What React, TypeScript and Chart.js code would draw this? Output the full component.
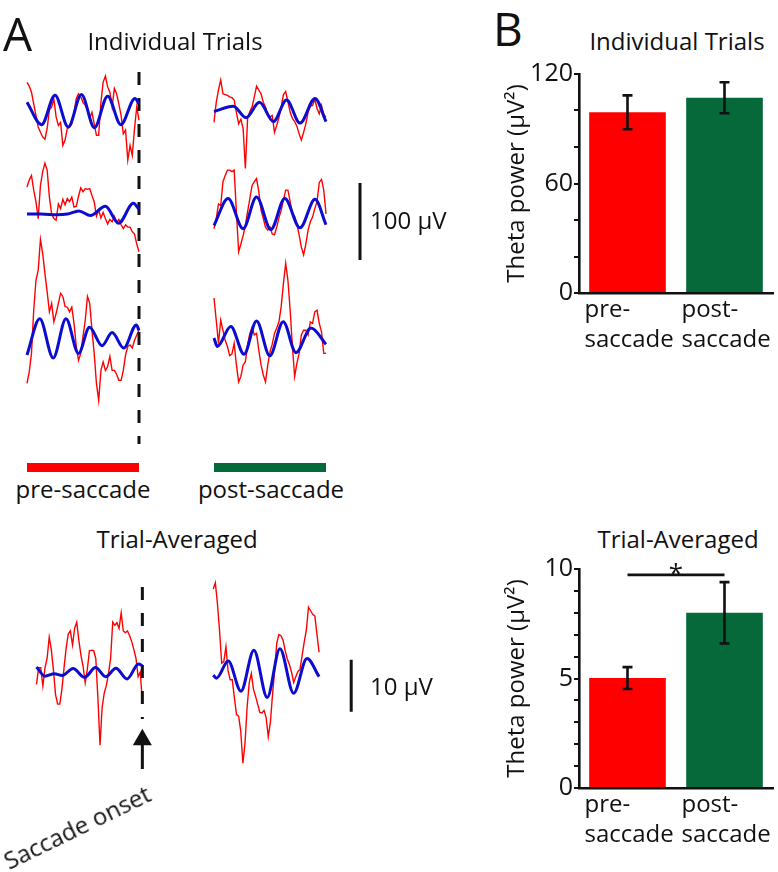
import React, { useEffect, useRef } from 'react';
import { Chart, registerables } from 'chart.js';

Chart.register(...registerables);

const FONT = '"Open Sans", "DejaVu Sans", sans-serif';
Chart.defaults.font.family = FONT;
const INK = '#111111';
const RED = '#ff0000';
const GREEN = '#05693a';
const BLUE = '#0c0cd0';

// ---------------- Panel A data (µV, samples every 10 ms, 500 ms windows) ----------------
const SAMPLE_MS = 10;
// Individual trials, pre-saccade window (-500..0 ms)
const RED_PRE_1 = [36, 31, 23, 8, -7, -22, -29, -35, -38, -24, 0, 4, 14, -9, -20, -16, -46, -39, -24, -22, -18, -3, 15, 21, 17, 10, 6, 0, -11, -3, -18, -33, -33, 10, 36, 44, 30, 23, 4, 28, 21, 8, -7, -31, -26, -65, -46, -59, -24, 4, -13];
const RED_PRE_2 = [35, 44, 50, 31, 16, -6, 37, 55, 66, 57, 22, 0, -6, -8, 13, 7, 19, 12, 20, 16, 22, 9, 10, 23, 34, 29, 33, 32, 33, 24, 16, -3, 5, -5, 2, -6, -13, -7, -10, -3, -11, -7, -14, -19, -14, -17, -17, -23, -26, -39, -49];
const RED_PRE_3 = [-59, -44, -20, 36, 75, 88, 128, 110, 84, 60, 34, 45, 21, 32, 45, 58, 54, 41, 40, 34, 40, 19, -11, -29, -20, 2, 23, 54, 45, 10, -20, -59, -81, -42, -31, -42, -37, -24, -42, -42, -47, -55, -55, -42, -22, -11, -9, -13, -3, 4, 10];
// Individual trials, post-saccade window (0..500 ms)
const RED_POST_1 = [-16, 10, 26, 39, 21, 20, 19, 17, 16, 13, -3, -18, -12, -24, -76, -11, -2, 4, 17, 31, 26, 21, 10, 4, -6, -9, -7, -29, -20, -10, 4, 20, 24, 11, -3, -11, -15, -21, -31, -39, -29, -18, -3, 5, 6, 14, 2, -5, 6, -6, -9];
const RED_POST_2 = [-19, -6, 13, 11, 42, 50, 57, 57, 55, 57, 3, -49, -39, -28, -15, 3, 20, 37, 42, 46, 29, 5, -6, -17, -21, -17, -26, -27, -17, -5, 5, 18, 31, 31, 16, 0, -3, -13, -27, -43, -53, -39, -21, -10, -4, 7, 16, 41, 45, 31, 0];
const RED_POST_3 = [52, 23, -7, 23, 10, -3, -11, -23, -21, -7, -35, -57, -50, -35, -31, -9, 6, 14, 4, 6, -16, -35, -48, -57, -35, -18, -8, 6, 13, 21, 41, 71, 97, 75, 36, -11, -50, -33, -20, 4, 10, 10, 4, 21, 19, 34, 36, 19, 8, -20, -20];

// Theta fits (key points: times in ms, values in µV)
const BLUE_PRE_1_T = [-500, -435, -375, -316, -257, -199, -140, -81, -18, 0];
const BLUE_PRE_1_V = [10, -19, 19, -22, 20, -23, 18, -19, 15, 8];
const BLUE_PRE_2_T = [-500, -438, -364, -320, -268, -217, -150, -91, -25, 0];
const BLUE_PRE_2_V = [0, 0, -1, 0, 4, -2, 10, -12, 14, 6];
const BLUE_PRE_3_T = [-500, -443, -383, -326, -270, -221, -165, -120, -68, -12, 0];
const BLUE_PRE_3_V = [-22, 25, -26, 25, -20, 14, -10, 7, -13, 17, 10];
const BLUE_POST_1_T = [0, 86, 143, 203, 265, 324, 384, 451, 500];
const BLUE_POST_1_V = [-2, 5, -10, 10, -15, 13, -17, 15, -15];
const BLUE_POST_2_T = [0, 63, 130, 190, 254, 316, 384, 451, 500];
const BLUE_POST_2_V = [-15, 20, -19, 22, -20, 20, -18, 19, -14];
const BLUE_POST_3_T = [0, 15, 75, 134, 190, 249, 309, 366, 433, 500];
const BLUE_POST_3_V = [0, -11, 15, -21, 22, -23, 21, -19, 13, -8];

// Trial-averaged (µV)
const RED_PRE_AVG = [-2.3, 0.9, 0.9, -2.6, 0.9, 2.7, 6.8, 4.4, 0.4, -4.3, -6.1, -6.1, -3.2, 0.9, 4.7, 7.4, 8.0, 5.3, 8.5, 9.7, 6.2, 3.3, 1.2, -2.0, 0.6, 4.2, 4.3, 4.2, 2.7, -4.9, -14.0, -6.7, -4.0, -2.5, -0.2, 2.7, 9.7, 9.1, 9.6, 8.5, 11.5, 8.0, 7.7, 8.0, 7.1, 5.9, 4.4, 2.7, -0.8, 0.1, -5.5];
const RED_POST_AVG = [16.1, 17.3, 13.2, 8.0, 1.8, 2.1, 5.0, 0.4, -1.4, -1.4, -4.9, -8.1, -8.4, -11.3, -17.5, -13.7, -6.7, -2.0, -0.2, -3.2, -4.6, -6.1, -7.7, -7.8, -7.3, -8.7, -12.4, -9.6, -4.3, 0.4, 5.6, 7.3, 7.1, 6.2, 4.2, 2.6, 1.5, 0.1, -1.9, -0.8, 0.2, 0.6, 3.3, 5.9, 8.2, 12.6, 11.9, 11.2, 10.9, 7.4, 3.9];
const BLUE_PRE_AVG_T = [-500, -460, -416, -379, -327, -273, -221, -173, -125, -72, -18, 0];
const BLUE_PRE_AVG_V = [1.05, -0.7, -0.23, -0.58, 0.76, -0.94, 0.94, -0.82, 0.82, -1.23, 1.64, 1.29];
const BLUE_POST_AVG_T = [0, 15, 71, 131, 192, 255, 315, 380, 443, 500];
const BLUE_POST_AVG_V = [-0.5, -1.1, 2.2, -3.6, 4.3, -4.8, 4.6, -4.0, 2.7, -0.8];

const IND_SCALE_UV = 100;
const AVG_SCALE_UV = 10;

// ---------------- Panel B data ----------------
const BAR_LABELS = [['pre-', 'saccade'], ['post-', 'saccade']];
const IND_POWER = [99, 107];
const IND_POWER_SEM = [9.3, 8.5];
const AVG_POWER = [5.02, 8.0];
const AVG_POWER_SEM = [0.5, 1.4];
const IND_TICK_MAX = 120, IND_TICK_STEP = 20, IND_TICK_LABEL_EVERY = 60;
const AVG_TICK_MAX = 10, AVG_TICK_STEP = 1, AVG_TICK_LABEL_EVERY = 5;
const SIG_LEVEL = 9.73;

// ---------------- layout (page pixels) ----------------
const PRE_LEFT = 27, PRE_RIGHT = 139, POST_LEFT = 214;
const TRACE_W = 400;
const PX_PER_MS = (PRE_RIGHT - PRE_LEFT) / 500;
const X_MIN = -500 - PRE_LEFT / PX_PER_MS;
const X_MAX = X_MIN + TRACE_W / PX_PER_MS;
const POST_SHIFT = (POST_LEFT - PRE_RIGHT) / PX_PER_MS;
const xOfPage = (px: number) => X_MIN + px / PX_PER_MS;

const IND_TOP = 60, IND_H = 400, IND_PX_PER_UV = 0.77;
const IND_BASE = [110, 214, 338];
const indY = (pageY: number) => (IND_BASE[0] - pageY) / IND_PX_PER_UV;

const AVG_TOP = 555, AVG_H = 245, AVG_PX_PER_UV = 5.7, AVG_BASE = 672;
const avgY = (pageY: number) => (AVG_BASE - pageY) / AVG_PX_PER_UV;

function sampled(vals: number[], t0: number, off: number) {
  return vals.map((v, i) => ({ x: t0 + i * SAMPLE_MS, y: v + off }));
}
function keyed(ts: number[], vs: number[], shift: number, off: number) {
  return ts.map((t, i) => ({ x: t + shift, y: vs[i] + off }));
}
function redSet(data: any[]) {
  return { data, showLine: true, borderColor: RED, borderWidth: 1.4, pointRadius: 0, tension: 0, order: 2 };
}
function blueSet(data: any[]) {
  return { data, showLine: true, borderColor: BLUE, borderWidth: 3, pointRadius: 0, cubicInterpolationMode: 'monotone', order: 0 };
}
function blackLine(data: any[], dash: number[] = []) {
  return { data, showLine: true, borderColor: INK, borderWidth: 3, borderDash: dash, pointRadius: 0, order: 1 };
}

function buildIndividual() {
  const pre = [RED_PRE_1, RED_PRE_2, RED_PRE_3];
  const post = [RED_POST_1, RED_POST_2, RED_POST_3];
  const bpre = [[BLUE_PRE_1_T, BLUE_PRE_1_V], [BLUE_PRE_2_T, BLUE_PRE_2_V], [BLUE_PRE_3_T, BLUE_PRE_3_V]];
  const bpost = [[BLUE_POST_1_T, BLUE_POST_1_V], [BLUE_POST_2_T, BLUE_POST_2_V], [BLUE_POST_3_T, BLUE_POST_3_V]];
  const ds: any[] = [];
  for (let r = 0; r < 3; r++) {
    const off = indY(IND_BASE[r]);
    ds.push(redSet(sampled(pre[r], -500, off)));
    ds.push(redSet(sampled(post[r], POST_SHIFT, off)));
    ds.push(blueSet(keyed(bpre[r][0], bpre[r][1], 0, off)));
    ds.push(blueSet(keyed(bpost[r][0], bpost[r][1], POST_SHIFT, off)));
  }
  ds.push(blackLine([{ x: 0, y: indY(72) }, { x: 0, y: indY(444) }], [13, 13]));
  const sbx = xOfPage(360), sbTop = indY(183);
  ds.push(blackLine([{ x: sbx, y: sbTop }, { x: sbx, y: sbTop - IND_SCALE_UV }]));
  return ds;
}

function buildAveraged() {
  const ds: any[] = [];
  ds.push(redSet(sampled(RED_PRE_AVG, -500, 0)));
  ds.push(redSet(sampled(RED_POST_AVG, POST_SHIFT, 0)));
  ds.push(blueSet(keyed(BLUE_PRE_AVG_T, BLUE_PRE_AVG_V, 0, 0)));
  ds.push(blueSet(keyed(BLUE_POST_AVG_T, BLUE_POST_AVG_V, POST_SHIFT, 0)));
  ds.push(blackLine([{ x: 0, y: avgY(578) }, { x: 0, y: avgY(723) }], [13, 13]));
  const sbx = xOfPage(360), sbTop = avgY(658);
  ds.push(blackLine([{ x: sbx, y: sbTop }, { x: sbx, y: sbTop - AVG_SCALE_UV }]));
  ds.push({
    data: [{ x: 0, y: avgY(746) }, { x: 0, y: avgY(778) }],
    showLine: true, borderColor: INK, borderWidth: 3, order: 1,
    pointRadius: [8, 0], pointStyle: 'triangle', pointBackgroundColor: INK, pointBorderColor: INK,
  });
  return ds;
}

function TraceCanvas({ top, height, yMin, yMax, build }: any) {
  const ref = useRef<HTMLCanvasElement>(null);
  useEffect(() => {
    const chart = new Chart(ref.current as HTMLCanvasElement, {
      type: 'scatter',
      data: { datasets: build() },
      options: {
        animation: false, responsive: false, maintainAspectRatio: false,
        events: [],
        layout: { padding: 0 },
        plugins: { legend: { display: false }, tooltip: { enabled: false } },
        scales: {
          x: { type: 'linear', display: false, min: X_MIN, max: X_MAX },
          y: { type: 'linear', display: false, min: yMin, max: yMax },
        },
      } as any,
    });
    return () => chart.destroy();
  }, []);
  return <canvas ref={ref} width={TRACE_W} height={height} style={{ position: 'absolute', left: 0, top, width: TRACE_W, height }} />;
}

const errorBarPlugin = {
  id: 'errorBars',
  afterDatasetsDraw(chart: any, _a: any, opts: any) {
    const { ctx } = chart;
    const y = chart.scales.y;
    const meta = chart.getDatasetMeta(0);
    const vals = chart.data.datasets[0].data;
    ctx.save();
    ctx.strokeStyle = INK;
    ctx.lineWidth = 2.6;
    meta.data.forEach((bar: any, i: number) => {
      const yt = y.getPixelForValue(vals[i] + opts.errors[i]);
      const yb = y.getPixelForValue(vals[i] - opts.errors[i]);
      ctx.beginPath();
      ctx.moveTo(bar.x, yt); ctx.lineTo(bar.x, yb);
      ctx.moveTo(bar.x - 5, yt); ctx.lineTo(bar.x + 5, yt);
      ctx.moveTo(bar.x - 5, yb); ctx.lineTo(bar.x + 5, yb);
      ctx.stroke();
    });
    if (opts.sig != null) {
      const x0 = meta.data[0].x, x1 = meta.data[1].x;
      const ys = y.getPixelForValue(opts.sig);
      ctx.beginPath();
      ctx.moveTo(x0, ys); ctx.lineTo(x1, ys);
      ctx.stroke();
      ctx.fillStyle = INK;
      ctx.font = `26px ${FONT}`;
      ctx.textAlign = 'center';
      ctx.textBaseline = 'alphabetic';
      ctx.fillText('*', (x0 + x1) / 2, ys + 7);
    }
    ctx.restore();
  },
};

function PowerBars({ top, values, errors, max, step, every, sig }: any) {
  const ref = useRef<HTMLCanvasElement>(null);
  useEffect(() => {
    const chart = new Chart(ref.current as HTMLCanvasElement, {
      type: 'bar',
      data: {
        labels: BAR_LABELS,
        datasets: [{ data: values, backgroundColor: [RED, GREEN], borderWidth: 0, categoryPercentage: 1, barPercentage: 0.79 }],
      },
      options: {
        animation: false, responsive: false, maintainAspectRatio: false,
        events: [],
        layout: { padding: { left: 20, top: 14, right: 5, bottom: 0 } },
        plugins: { legend: { display: false }, tooltip: { enabled: false }, errorBars: { errors, sig } },
        scales: {
          x: {
            grid: { display: false, drawTicks: false },
            border: { display: true, color: INK, width: 2.6 },
            ticks: { font: { family: FONT, size: 24, lineHeight: 1.25 }, color: INK, align: 'start', labelOffset: -43, padding: 2, autoSkip: false, maxRotation: 0, minRotation: 0 },
            afterFit: (s: any) => { s.height = 67; s.paddingLeft = 0; s.paddingRight = 0; },
          },
          y: {
            min: 0, max,
            ticks: { stepSize: step, autoSkip: false, callback: (v: any) => (v % every === 0 ? String(v) : ''), font: { family: FONT, size: 25, lineHeight: 1 }, color: INK, padding: 1 },
            grid: { drawOnChartArea: false, drawTicks: true, tickLength: 5, color: INK, lineWidth: 2 },
            border: { color: INK, width: 2.6 },
            title: { display: true, text: 'Theta power (μV²)', color: INK, font: { family: FONT, size: 24, lineHeight: 1.2 }, padding: { top: 3, bottom: 0 } },
            afterFit: (s: any) => { s.width = 79; s.paddingTop = 0; s.paddingBottom = 0; },
          },
        },
      } as any,
      plugins: [errorBarPlugin],
    });
    return () => chart.destroy();
  }, []);
  return <canvas ref={ref} width={298} height={300} style={{ position: 'absolute', left: 480, top, width: 298, height: 300 }} />;
}

function Txt({ children, left, top, size = 24, center, width, style }: any) {
  const base: any = {
    position: 'absolute', top, fontFamily: FONT, fontSize: size, lineHeight: 1, color: INK, whiteSpace: 'nowrap',
  };
  if (center != null) {
    base.left = center - 200; base.width = 400; base.textAlign = 'center';
  } else {
    base.left = left;
    if (width) base.width = width;
  }
  return <div style={{ ...base, ...style }}>{children}</div>;
}

export default function App() {
  return (
    <div style={{ position: 'absolute', left: 0, top: 0, width: 778, height: 872, background: '#fff', overflow: 'hidden' }}>
      <TraceCanvas top={IND_TOP} height={IND_H} yMin={indY(IND_TOP + IND_H)} yMax={indY(IND_TOP)} build={buildIndividual} />
      <TraceCanvas top={AVG_TOP} height={AVG_H} yMin={avgY(AVG_TOP + AVG_H)} yMax={avgY(AVG_TOP)} build={buildAveraged} />
      <PowerBars top={60} values={IND_POWER} errors={IND_POWER_SEM} max={IND_TICK_MAX} step={IND_TICK_STEP} every={IND_TICK_LABEL_EVERY} sig={null} />
      <PowerBars top={555} values={AVG_POWER} errors={AVG_POWER_SEM} max={AVG_TICK_MAX} step={AVG_TICK_STEP} every={AVG_TICK_LABEL_EVERY} sig={SIG_LEVEL} />

      <div style={{ position: 'absolute', left: PRE_LEFT, top: 463, width: PRE_RIGHT - PRE_LEFT, height: 9, background: RED }} />
      <div style={{ position: 'absolute', left: POST_LEFT, top: 463, width: PRE_RIGHT - PRE_LEFT, height: 9, background: GREEN }} />

      <Txt left={3} top={10} size={46}>A</Txt>
      <Txt left={493} top={5} size={46}>B</Txt>
      <Txt center={175} top={29}>Individual Trials</Txt>
      <Txt center={677} top={29}>Individual Trials</Txt>
      <Txt center={177} top={527}>Trial-Averaged</Txt>
      <Txt center={678} top={527}>Trial-Averaged</Txt>
      <Txt center={83} top={477}>pre-saccade</Txt>
      <Txt center={271} top={477}>post-saccade</Txt>
      <Txt left={370} top={208}>100 μV</Txt>
      <Txt left={370} top={674}>10 μV</Txt>
      <Txt left={77} top={827} style={{ transform: 'translate(-50%, -50%) rotate(-26deg)' }}>Saccade onset</Txt>
    </div>
  );
}
